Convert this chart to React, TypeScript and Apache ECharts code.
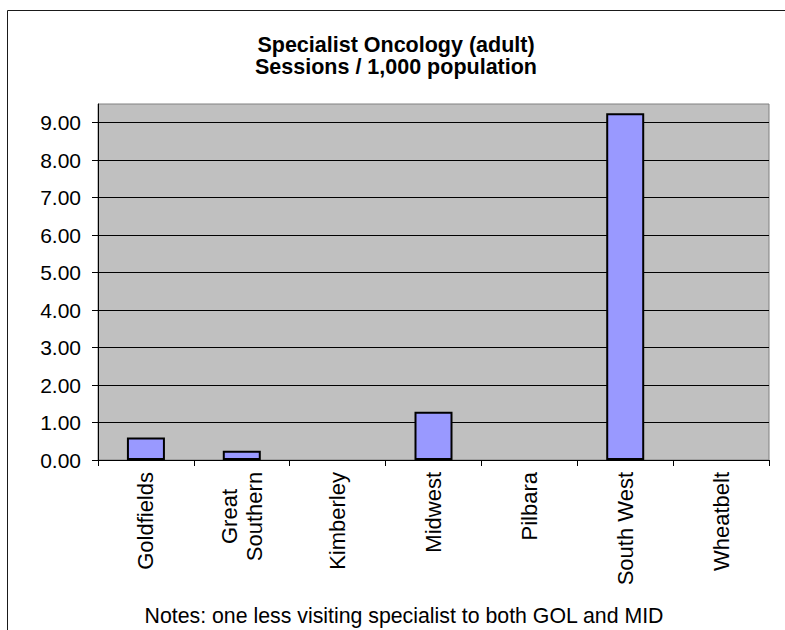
import React, { useEffect, useRef } from "react";
import * as echarts from "echarts";

// Regions and sessions per 1,000 population
const categories = ["Goldfields", "Great\nSouthern", "Kimberley", "Midwest", "Pilbara", "South West", "Wheatbelt"];
const sessions = [0.6, 0.25, 0, 1.29, 0, 9.25, 0];
const yTicks = [0, 1, 2, 3, 4, 5, 6, 7, 8, 9];
const titleLines = ["Specialist Oncology (adult)", "Sessions / 1,000 population"];
const noteText = "Notes: one less visiting specialist to both GOL and MID";

const FONT = "'Liberation Sans', Arial, sans-serif";

export default function App() {
  const ref = useRef<HTMLDivElement>(null);

  useEffect(() => {
    if (!ref.current) return;
    const chart = echarts.init(ref.current, null, { renderer: "svg" });

    // One black line per tick; the extra one at the axis max sits on the plot border
    const splitColors = yTicks.map(() => "#000000").concat(["#808080"]);

    chart.setOption({
      animation: false,
      backgroundColor: "#ffffff",
      textStyle: { fontFamily: FONT },
      grid: {
        left: 98,
        top: 104,
        right: 16,
        bottom: 170,
        show: true,
        backgroundColor: "#C0C0C0",
        borderColor: "#808080",
        borderWidth: 1,
      },
      xAxis: {
        type: "category",
        data: categories,
        boundaryGap: true,
        axisLine: { lineStyle: { color: "#000000", width: 1 } },
        axisTick: { show: true, length: 6, alignWithLabel: false, lineStyle: { color: "#000000" } },
        axisLabel: {
          rotate: 90,
          interval: 0,
          margin: 12,
          fontSize: 22,
          fontFamily: FONT,
          color: "#000000",
          lineHeight: 25,
          formatter: (v: string) =>
            v.includes("\n") ? v.split("\n").map((s) => `{c|${s}}`).join("\n") : v,
          rich: {
            c: { width: 89, align: "center", fontSize: 22, fontFamily: FONT, color: "#000000", lineHeight: 25 },
          },
        },
      },
      yAxis: {
        type: "value",
        min: 0,
        max: 9.5,
        interval: 1,
        axisLine: { show: true, lineStyle: { color: "#000000", width: 1 } },
        axisTick: { show: true, length: 6, customValues: yTicks, lineStyle: { color: "#000000" } },
        axisLabel: {
          customValues: yTicks,
          margin: 17,
          fontSize: 21,
          fontFamily: FONT,
          color: "#000000",
          formatter: (v: number) => (v > yTicks[yTicks.length - 1] ? "" : v.toFixed(2)),
        },
        splitLine: { show: true, lineStyle: { color: splitColors, width: 1 } },
      },
      series: [
        {
          type: "bar",
          barWidth: 38,
          data: sessions.map((v) => ({
            value: v,
            itemStyle: v === 0 ? { borderWidth: 0 } : undefined,
          })),
          itemStyle: { color: "#9999FF", borderColor: "#000000", borderWidth: 2 },
        },
      ],
      graphic: [
        {
          type: "rect",
          z: -10,
          silent: true,
          shape: { x: 7.5, y: 10.5, width: 1000, height: 1000 },
          style: { fill: "none", stroke: "#1a1a1a", lineWidth: 1 },
        },
        {
          type: "text",
          x: 396,
          y: 45,
          style: {
            text: titleLines[0],
            fontSize: 21.5,
            fontWeight: "bold",
            fontFamily: FONT,
            fill: "#000000",
            align: "center",
            verticalAlign: "middle",
          },
        },
        {
          type: "text",
          x: 396,
          y: 67,
          style: {
            text: titleLines[1],
            fontSize: 21.5,
            fontWeight: "bold",
            fontFamily: FONT,
            fill: "#000000",
            align: "center",
            verticalAlign: "middle",
          },
        },
        {
          type: "text",
          x: 404,
          y: 615.5,
          style: {
            text: noteText,
            fontSize: 21.3,
            fontFamily: FONT,
            fill: "#000000",
            align: "center",
            verticalAlign: "middle",
          },
        },
      ],
    });

    return () => chart.dispose();
  }, []);

  return (
    <div
      ref={ref}
      style={{ position: "absolute", left: 0, top: 0, width: 785, height: 630 }}
    />
  );
}
